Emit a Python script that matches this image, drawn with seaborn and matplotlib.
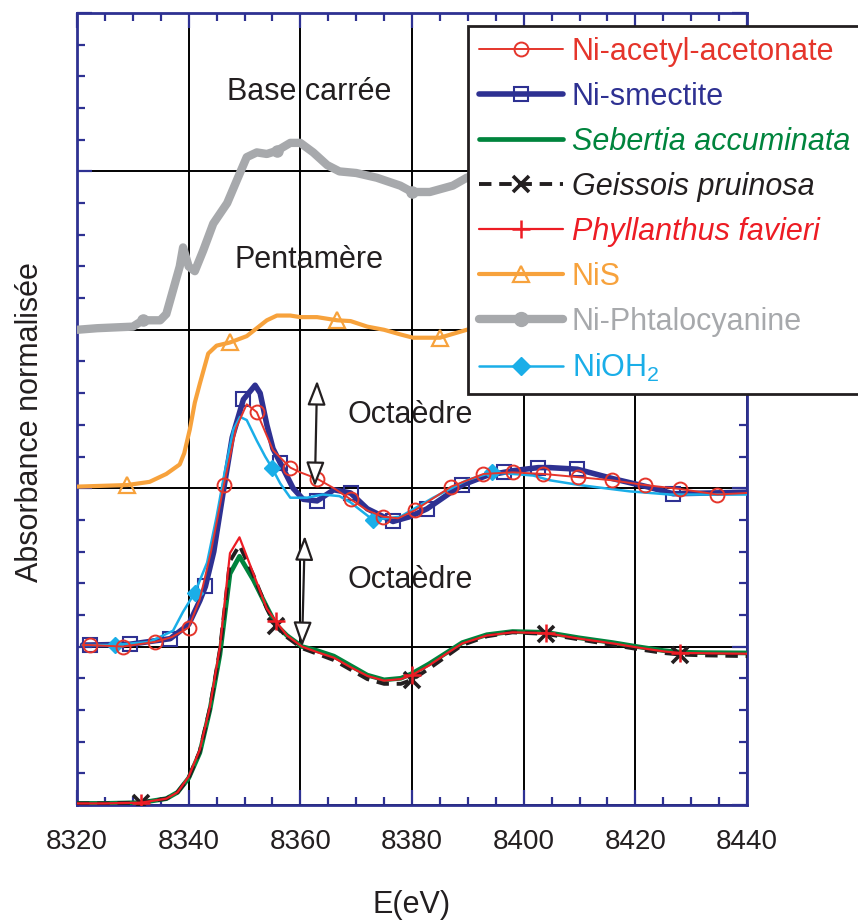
import numpy as np
import matplotlib
matplotlib.use("Agg")
import matplotlib.pyplot as plt
from matplotlib.lines import Line2D
from matplotlib.patches import FancyArrowPatch
import seaborn as sns

# ---------------- data ----------------
# Bottom group: plant samples (offset 0)
E_plant = [8320, 8325, 8331.5, 8336, 8338, 8340, 8342, 8343.8, 8345.6, 8347.4, 8349.1,
           8351.6, 8354, 8355.6, 8357.6, 8360.3, 8363, 8366, 8369, 8372, 8375, 8378,
           8380, 8383, 8386.8, 8389, 8393.4, 8398, 8404, 8410, 8416, 8420.3, 8425,
           8428, 8432, 8440]
y_phyllanthus = [0.01, 0.01, 0.015, 0.04, 0.08, 0.18, 0.35, 0.62, 1.0, 1.59, 1.69,
                 1.46, 1.24, 1.16, 1.07, 1.0, 0.965, 0.93, 0.87, 0.815, 0.785, 0.795,
                 0.82, 0.88, 0.97, 1.02, 1.07, 1.09, 1.085, 1.05, 1.02, 0.995, 0.97,
                 0.96, 0.958, 0.955]
y_sebertia = [0.01, 0.01, 0.015, 0.04, 0.08, 0.17, 0.33, 0.6, 0.95, 1.46, 1.57,
              1.42, 1.25, 1.14, 1.07, 1.0, 0.975, 0.94, 0.88, 0.82, 0.79, 0.80,
              0.83, 0.89, 0.975, 1.025, 1.075, 1.095, 1.09, 1.055, 1.025, 1.0, 0.975,
              0.965, 0.962, 0.96]
y_geissois = [0.01, 0.01, 0.015, 0.04, 0.08, 0.17, 0.34, 0.61, 0.98, 1.54, 1.64,
              1.45, 1.24, 1.13, 1.06, 0.99, 0.955, 0.915, 0.855, 0.795, 0.765, 0.765,
              0.79, 0.86, 0.955, 1.01, 1.065, 1.09, 1.08, 1.045, 1.01, 0.985, 0.96,
              0.95, 0.945, 0.94]
mk_geissois = [8331.5, 8355.6, 8380, 8404, 8428]
mk_phyllanthus = [8331.5, 8355.6, 8380, 8404, 8428]

# Middle group: references (offset 1)
E_smectite = [8321, 8322.3, 8329.5, 8336.7, 8340, 8342, 8343, 8344.5, 8346.3, 8347.8,
              8349.8, 8351.9, 8352.8, 8354, 8355.1, 8356.4, 8358.7, 8360.5, 8363, 8366,
              8369, 8372, 8376.6, 8379.6, 8382.7, 8386.8, 8389, 8393.4, 8396.4, 8398,
              8402.6, 8404.7, 8409.6, 8416, 8422, 8426.8, 8434, 8440]
y_smectite = [1.01, 1.01, 1.015, 1.05, 1.14, 1.29, 1.38, 1.6, 2.0, 2.32,
              2.56, 2.65, 2.6, 2.4, 2.25, 2.16, 2.0, 1.93, 1.92, 1.99,
              1.97, 1.87, 1.79, 1.82, 1.87, 1.97, 2.02, 2.08, 2.10, 2.11,
              2.13, 2.13, 2.12, 2.06, 2.01, 1.965, 1.97, 1.975]
mk_smectite = [8322.3, 8329.5, 8336.7, 8343, 8349.8, 8356.4, 8363, 8369, 8376.6,
               8382.7, 8389, 8396.4, 8402.6, 8409.6, 8426.8]

E_acac = [8321, 8322.3, 8328.2, 8334, 8337, 8340, 8342, 8344, 8346.3, 8348.5, 8350.4,
          8352.2, 8355.1, 8358.2, 8360, 8363, 8366, 8369, 8372, 8374.8, 8377.5, 8380.5,
          8387, 8392.8, 8398, 8403.5, 8409.7, 8415.8, 8421.7, 8428, 8434.7, 8440]
y_acac = [1.01, 1.01, 1.0, 1.03, 1.06, 1.12, 1.3, 1.6, 2.02, 2.38, 2.53,
          2.48, 2.24, 2.13, 2.10, 2.06, 2.0, 1.93, 1.86, 1.82, 1.81, 1.86,
          2.01, 2.09, 2.10, 2.09, 2.07, 2.05, 2.02, 1.995, 1.96, 1.97]
mk_acac = [8322.3, 8328.2, 8334, 8340, 8346.3, 8352.2, 8358.2, 8363, 8369, 8374.8,
           8380.5, 8387, 8392.8, 8398, 8403.5, 8409.7, 8415.8, 8421.7, 8428, 8434.7]

E_nioh2 = [8321, 8326.8, 8333, 8337.2, 8339, 8341.1, 8343.3, 8345, 8346.5, 8348, 8349.2,
           8350.4, 8352.2, 8353.7, 8354.9, 8356.4, 8358.2, 8361.2, 8364, 8367, 8369,
           8373, 8377.9, 8383.8, 8389.8, 8394.3, 8401.7, 8404.7, 8410, 8419, 8426.2, 8440]
y_nioh2 = [1.01, 1.01, 1.03, 1.10, 1.22, 1.34, 1.53, 1.82, 2.11, 2.37, 2.45,
           2.43, 2.30, 2.20, 2.13, 2.03, 1.94, 1.94, 1.96, 1.95, 1.91,
           1.80, 1.82, 1.94, 2.05, 2.10, 2.08, 2.05, 2.02, 1.98, 1.96, 1.96]
mk_nioh2 = [8326.8, 8341.1, 8354.9, 8373, 8394.3]

# NiS (offset 2)
E_nis = [8320, 8329, 8333, 8336, 8338.4, 8339.2, 8340.2, 8341.1, 8342, 8343.5, 8345,
         8347.4, 8350.4, 8352.2, 8354, 8355.8, 8358.2, 8360, 8363, 8366.6, 8369, 8372,
         8375, 8378, 8380.2, 8385, 8389.8, 8395]
y_nis = [2.01, 2.02, 2.04, 2.09, 2.15, 2.22, 2.37, 2.54, 2.66, 2.85, 2.90,
         2.92, 2.96, 3.01, 3.06, 3.09, 3.09, 3.08, 3.08, 3.06, 3.055, 3.02,
         3.0, 2.97, 2.95, 2.95, 3.0, 3.03]
mk_nis = [8329, 8347.4, 8366.6, 8385]

# Ni-Phtalocyanine (offset 3)
E_pc = [8320, 8323.6, 8330, 8331.8, 8334.9, 8336, 8337.2, 8338.4, 8339, 8340, 8341.1,
        8342.6, 8344.4, 8346.9, 8348.7, 8350.4, 8352.2, 8354, 8355.8, 8358.2, 8360,
        8362.3, 8364.8, 8367, 8370, 8373.7, 8377.9, 8380, 8383.2, 8387.3, 8389.8, 8393]
y_pc = [3.0, 3.01, 3.02, 3.06, 3.06, 3.10, 3.25, 3.40, 3.52, 3.40, 3.37,
        3.50, 3.67, 3.80, 3.95, 4.09, 4.12, 4.11, 4.13, 4.18, 4.18,
        4.12, 4.04, 4.0, 3.99, 3.96, 3.91, 3.87, 3.87, 3.91, 3.96, 4.0]
mk_pc = [8331.8, 8355.8, 8380]

x_ticks = [8320, 8340, 8360, 8380, 8400, 8420, 8440]
x_ticklabels = ["8320", "8340", "8360", "8380", "8400", "8420", "8440"]

legend_labels = ["Ni-acetyl-acetonate", "Ni-smectite", "Sebertia accuminata",
                 "Geissois pruinosa", "Phyllanthus favieri", "NiS",
                 "Ni-Phtalocyanine", r"NiOH$_\mathregular{2}$"]

# ---------------- style ----------------
sns.set_style("ticks")
plt.rcParams['font.family'] = ['Liberation Sans', 'DejaVu Sans']

NAVY = '#2E3192'
RED_A = '#E5352B'
RED_P = '#ED1C24'
GREEN = '#00843D'
BLACK = '#231F20'
ORANGE = '#F7A23C'
GRAY = '#A7A9AC'
CYAN = '#1AAEE8'
TXT = '#231F20'

fig = plt.figure(figsize=(8.58, 9.21), dpi=100)
ax = fig.add_axes([77/858, 116/921, 670/858, 792/921])


def idx_of(E, marks):
    E = np.asarray(E)
    return [int(np.argmin(np.abs(E - m))) for m in marks]


def draw(E, y, color, lw, z, marker=None, marks=None, ms=10, mfc='none', mew=1.5,
         ls='-'):
    kw = dict(x=E, y=y, ax=ax, color=color, linewidth=lw, estimator=None,
              sort=False, legend=False, zorder=z, linestyle=ls)
    if marker is not None:
        kw.update(marker=marker, markevery=idx_of(E, marks), markersize=ms,
                  markerfacecolor=mfc, markeredgecolor=color, markeredgewidth=mew)
    sns.lineplot(**kw)


# top references
draw(E_pc, y_pc, GRAY, 6.0, 3, 'o', mk_pc, ms=8, mfc=GRAY, mew=1)
draw(E_nis, y_nis, ORANGE, 3.0, 3, '^', mk_nis, ms=11, mew=1.6)
# middle group
draw(E_smectite, y_smectite, NAVY, 4.0, 3.1, 's', mk_smectite, ms=10, mew=1.5)
draw(E_nioh2, y_nioh2, CYAN, 1.8, 3.2, 'D', mk_nioh2, ms=8, mfc=CYAN, mew=1)
draw(E_acac, y_acac, RED_A, 1.4, 3.3, 'o', mk_acac, ms=10, mew=1.4)
# bottom group
draw(E_plant, y_sebertia, GREEN, 3.4, 3.1)
draw(E_plant, y_geissois, BLACK, 2.8, 3.2, 'x', mk_geissois, ms=11, mew=2.6,
     ls=(0, (3.2, 2.0)))
draw(E_plant, y_phyllanthus, RED_P, 1.6, 3.3, '+', mk_phyllanthus, ms=13, mew=1.8)

# axes
ax.set_xlim(8320, 8440)
ax.set_ylim(0, 5)
ax.set_xticks(x_ticks)
ax.set_xticklabels(x_ticklabels)
ax.set_xticks(np.arange(8320, 8441, 5), minor=True)
ax.set_yticks([0, 1, 2, 3, 4, 5])
ax.set_yticks(np.arange(0, 5.01, 0.2), minor=True)
ax.set_yticklabels([])
ax.grid(True, which='major', color='black', linewidth=1.4)
ax.set_axisbelow(True)
ax.tick_params(which='both', direction='in', top=True, right=True, color=NAVY,
               labelcolor=TXT)
ax.tick_params(which='major', length=10.5, width=1.6, labelsize=20, pad=17)
ax.tick_params(which='minor', length=5.8, width=1.6)
for s in ax.spines.values():
    s.set_color(NAVY)
    s.set_linewidth(2.0)

ax.set_xlabel("E(eV)", fontsize=22, color=TXT)
ax.set_ylabel("Absorbance normalisée", fontsize=22, color=TXT)
ax.xaxis.set_label_coords(0.5, -0.107)
ax.yaxis.set_label_coords(-0.0485, 0.484)

# annotations
ax.text(8361.5, 4.45, "Base carrée", fontsize=22, color=TXT, ha='center', va='baseline', zorder=4)
ax.text(8361.5, 3.39, "Pentamère", fontsize=22, color=TXT, ha='center', va='baseline', zorder=4)
ax.text(8368.5, 2.41, "Octaèdre", fontsize=22, color=TXT, ha='left', va='baseline', zorder=4)
ax.text(8368.5, 1.37, "Octaèdre", fontsize=22, color=TXT, ha='left', va='baseline', zorder=4)

for (x1, y1, x2, y2) in [(8362.6, 2.01, 8363.0, 2.68), (8360.3, 1.0, 8360.8, 1.70)]:
    ax.add_patch(FancyArrowPatch((x1, y1), (x2, y2),
                                 arrowstyle='<|-|>,head_length=0.75,head_width=0.28',
                                 mutation_scale=20, fc='white', ec=TXT, lw=1.6,
                                 shrinkA=0, shrinkB=0, zorder=4))

# legend with proxy handles
handles = [
    Line2D([], [], color=RED_A, lw=1.4, marker='o', ms=10, mfc='none', mec=RED_A, mew=1.4),
    Line2D([], [], color=NAVY, lw=4.0, marker='s', ms=10, mfc='none', mec=NAVY, mew=1.5),
    Line2D([], [], color=GREEN, lw=3.4),
    Line2D([], [], color=BLACK, lw=2.8, ls=(0, (3.2, 2.0)), marker='x', ms=11, mec=BLACK, mew=2.6),
    Line2D([], [], color=RED_P, lw=1.6, marker='+', ms=13, mec=RED_P, mew=1.8),
    Line2D([], [], color=ORANGE, lw=3.0, marker='^', ms=11, mfc='none', mec=ORANGE, mew=1.6),
    Line2D([], [], color=GRAY, lw=6.0, marker='o', ms=10, mfc=GRAY, mec=GRAY),
    Line2D([], [], color=CYAN, lw=1.8, marker='D', ms=9, mfc=CYAN, mec=CYAN),
]
text_colors = [RED_A, NAVY, GREEN, BLACK, RED_P, ORANGE, GRAY, CYAN]
italic = [False, False, True, True, True, False, False, False]
leg = ax.legend(handles, legend_labels, loc='upper left',
                bbox_to_anchor=(468/858, 1 - 26/921), bbox_transform=fig.transFigure,
                frameon=True, fancybox=False, edgecolor=TXT, framealpha=1,
                facecolor='white', borderpad=0.35, borderaxespad=0,
                handlelength=2.75, handletextpad=0.3, labelspacing=0.49,
                prop={'size': 22})
leg.get_frame().set_linewidth(2.0)
leg.set_zorder(10)
for t, c, it in zip(leg.get_texts(), text_colors, italic):
    t.set_color(c)
    if it:
        t.set_fontstyle('italic')

fig.savefig("out.png", dpi=100)
